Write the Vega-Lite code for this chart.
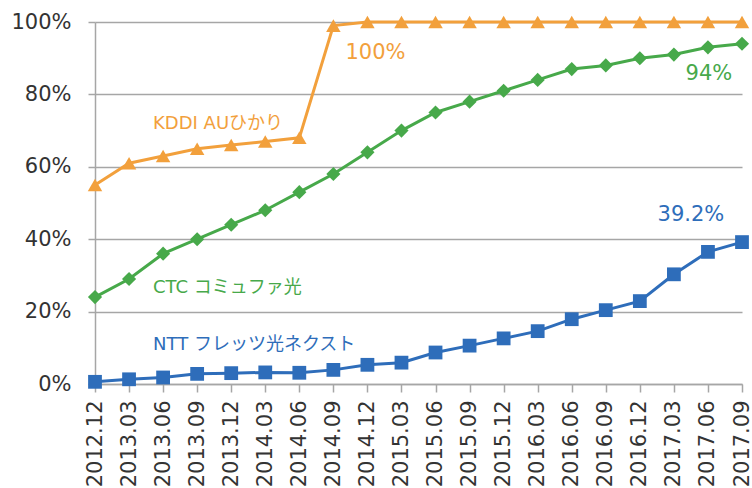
{
  "$schema": "https://vega.github.io/schema/vega-lite/v6.json",
  "autosize": "none",
  "width": 647,
  "height": 362,
  "padding": {"left": 95, "top": 22, "right": 10, "bottom": 104},
  "background": "white",
  "config": {"view": {"stroke": null}, "font": "DejaVu Sans"},
  "datasets": {
    "main": [
      {"date": "2012.12", "series": "KDDI", "value": 55}, {"date": "2013.03", "series": "KDDI", "value": 61}, {"date": "2013.06", "series": "KDDI", "value": 63}, {"date": "2013.09", "series": "KDDI", "value": 65}, {"date": "2013.12", "series": "KDDI", "value": 66}, {"date": "2014.03", "series": "KDDI", "value": 67}, {"date": "2014.06", "series": "KDDI", "value": 68}, {"date": "2014.09", "series": "KDDI", "value": 99}, {"date": "2014.12", "series": "KDDI", "value": 100}, {"date": "2015.03", "series": "KDDI", "value": 100}, {"date": "2015.06", "series": "KDDI", "value": 100}, {"date": "2015.09", "series": "KDDI", "value": 100}, {"date": "2015.12", "series": "KDDI", "value": 100}, {"date": "2016.03", "series": "KDDI", "value": 100}, {"date": "2016.06", "series": "KDDI", "value": 100}, {"date": "2016.09", "series": "KDDI", "value": 100}, {"date": "2016.12", "series": "KDDI", "value": 100}, {"date": "2017.03", "series": "KDDI", "value": 100}, {"date": "2017.06", "series": "KDDI", "value": 100}, {"date": "2017.09", "series": "KDDI", "value": 100},
      {"date": "2012.12", "series": "CTC", "value": 24}, {"date": "2013.03", "series": "CTC", "value": 29}, {"date": "2013.06", "series": "CTC", "value": 36}, {"date": "2013.09", "series": "CTC", "value": 40}, {"date": "2013.12", "series": "CTC", "value": 44}, {"date": "2014.03", "series": "CTC", "value": 48}, {"date": "2014.06", "series": "CTC", "value": 53}, {"date": "2014.09", "series": "CTC", "value": 58}, {"date": "2014.12", "series": "CTC", "value": 64}, {"date": "2015.03", "series": "CTC", "value": 70}, {"date": "2015.06", "series": "CTC", "value": 75}, {"date": "2015.09", "series": "CTC", "value": 78}, {"date": "2015.12", "series": "CTC", "value": 81}, {"date": "2016.03", "series": "CTC", "value": 84}, {"date": "2016.06", "series": "CTC", "value": 87}, {"date": "2016.09", "series": "CTC", "value": 88}, {"date": "2016.12", "series": "CTC", "value": 90}, {"date": "2017.03", "series": "CTC", "value": 91}, {"date": "2017.06", "series": "CTC", "value": 93}, {"date": "2017.09", "series": "CTC", "value": 94},
      {"date": "2012.12", "series": "NTT", "value": 0.6}, {"date": "2013.03", "series": "NTT", "value": 1.3}, {"date": "2013.06", "series": "NTT", "value": 1.8}, {"date": "2013.09", "series": "NTT", "value": 2.8}, {"date": "2013.12", "series": "NTT", "value": 3.0}, {"date": "2014.03", "series": "NTT", "value": 3.2}, {"date": "2014.06", "series": "NTT", "value": 3.1}, {"date": "2014.09", "series": "NTT", "value": 3.9}, {"date": "2014.12", "series": "NTT", "value": 5.3}, {"date": "2015.03", "series": "NTT", "value": 5.9}, {"date": "2015.06", "series": "NTT", "value": 8.7}, {"date": "2015.09", "series": "NTT", "value": 10.6}, {"date": "2015.12", "series": "NTT", "value": 12.6}, {"date": "2016.03", "series": "NTT", "value": 14.6}, {"date": "2016.06", "series": "NTT", "value": 17.9}, {"date": "2016.09", "series": "NTT", "value": 20.4}, {"date": "2016.12", "series": "NTT", "value": 22.9}, {"date": "2017.03", "series": "NTT", "value": 30.3}, {"date": "2017.06", "series": "NTT", "value": 36.5}, {"date": "2017.09", "series": "NTT", "value": 39.2}
    ]
  },
  "encoding": {
    "x": {
      "field": "date", "type": "ordinal",
      "scale": {"type": "point", "padding": 0},
      "axis": {"title": null, "labelAngle": -90, "labelFontSize": 21, "labelColor": "#333333", "labelFont": "DejaVu Sans", "domainColor": "#a6a6a6", "domainWidth": 1.5, "tickColor": "#a6a6a6", "tickWidth": 1.5, "tickSize": 8, "labelPadding": 8, "grid": false}
    },
    "y": {
      "field": "value", "type": "quantitative",
      "scale": {"domain": [0, 100], "nice": false},
      "axis": {"title": null, "values": [0, 20, 40, 60, 80, 100], "labelExpr": "datum.value + '%'", "labelFontSize": 21, "labelColor": "#333333", "labelFont": "DejaVu Sans", "domainColor": "#a6a6a6", "domainWidth": 1.5, "tickColor": "#a6a6a6", "tickWidth": 1.5, "tickSize": 7, "labelPadding": 17, "gridColor": "#a6a6a6", "gridWidth": 1.5}
    },
    "color": {
      "field": "series", "type": "nominal", "legend": null,
      "scale": {"domain": ["KDDI", "CTC", "NTT"], "range": ["#F2A03C", "#47A94A", "#2E6DBA"]}
    }
  },
  "layer": [
    {"data": {"name": "main"}, "mark": {"type": "line", "strokeWidth": 3}},
    {"data": {"name": "main"}, "mark": {"type": "point", "filled": true, "opacity": 1},
     "encoding": {
       "shape": {"field": "series", "type": "nominal", "legend": null, "scale": {"domain": ["KDDI", "CTC", "NTT"], "range": ["triangle-up", "diamond", "square"]}},
       "size": {"field": "series", "type": "nominal", "legend": null, "scale": {"domain": ["KDDI", "CTC", "NTT"], "range": [210, 190, 215]}}
     }},
    {"data": {"values": [
       {"date": "2013.03", "series": "KDDI", "value": 71.9, "label": "KDDI AUひかり"},
       {"date": "2013.03", "series": "CTC", "value": 26.5, "label": "CTC コミュファ光"},
       {"date": "2013.03", "series": "NTT", "value": 10.8, "label": "NTT フレッツ光ネクスト"}
     ]},
     "mark": {"type": "text", "align": "left", "baseline": "middle", "dx": 24, "fontSize": 18, "font": "DejaVu Sans, Noto Sans CJK JP"},
     "encoding": {"text": {"field": "label"}}},
    {"data": {"values": [{"date": "2014.12", "series": "KDDI", "value": 91.4, "label": "100%"}]},
     "mark": {"type": "text", "align": "center", "baseline": "middle", "dx": 8, "fontSize": 21, "font": "DejaVu Sans"},
     "encoding": {"text": {"field": "label"}}},
    {"data": {"values": [{"date": "2017.06", "series": "CTC", "value": 85.7, "label": "94%"}]},
     "mark": {"type": "text", "align": "center", "baseline": "middle", "dx": 1, "fontSize": 21, "font": "DejaVu Sans"},
     "encoding": {"text": {"field": "label"}}},
    {"data": {"values": [{"date": "2017.06", "series": "NTT", "value": 46.6, "label": "39.2%"}]},
     "mark": {"type": "text", "align": "center", "baseline": "middle", "dx": -17, "fontSize": 21, "font": "DejaVu Sans"},
     "encoding": {"text": {"field": "label"}}}
  ]
}
